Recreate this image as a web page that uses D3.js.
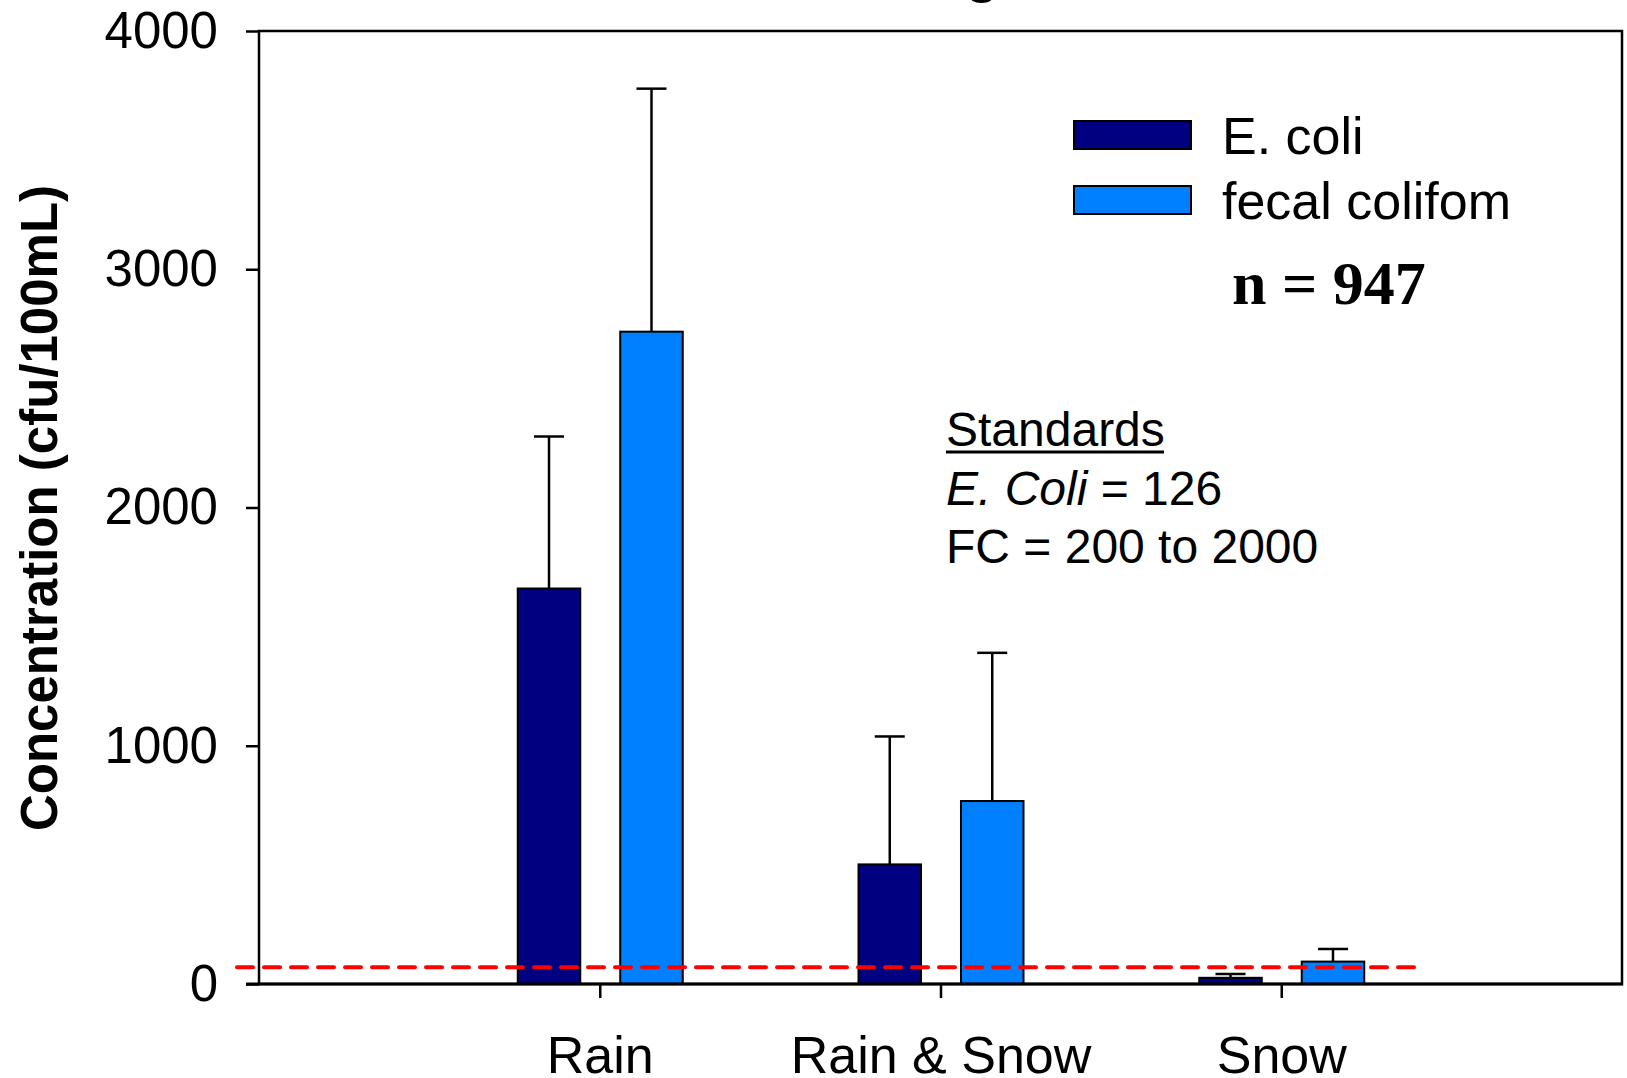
<!DOCTYPE html>
<html>
<head>
<meta charset="utf-8">
<script src="https://cdn.jsdelivr.net/npm/d3@7"></script>
<style>
  html, body { margin: 0; padding: 0; background: #fff; }
  svg { display: block; }
  text { font-family: Arial, "Liberation Sans", sans-serif; }
  text.serif { font-family: "Liberation Serif", "Times New Roman", serif; }
</style>
</head>
<body>
<svg id="chart" width="1627" height="1078"></svg>
<script>
// ---- data ----
const categories = ["Rain", "Rain & Snow", "Snow"];
const seriesNames = ["E. coli", "fecal colifom"];
const seriesColors = ["#000080", "#0080FF"];
const ecoliMean = [1660, 502, 26];
const ecoliErr = [638, 537, 16];
const fecalMean = [2738, 768, 94];
const fecalErr = [1020, 622, 53];
const yTicks = [0, 1000, 2000, 3000, 4000];
const standardLine = 70;
const standardsText = ["Standards", "E. Coli", " = 126", "FC = 200 to 2000"];
const nText = "n = 947";

// ---- layout ----
const W = 1627, H = 1078;
const m = { left: 259, right: 5, top: 31, bottom: 94 };
const x0L = m.left, x1R = W - m.right, yT = m.top, yB = H - m.bottom;

const svg = d3.select("#chart");

const x = d3.scalePoint().domain(categories).range([x0L, x1R]).padding(1);
const xs = d3.scaleBand().domain(seriesNames).range([-82, 83]).paddingInner(0.39).paddingOuter(0);
const y = d3.scaleLinear().domain([0, 4000]).range([yB, yT]);

// title fragment (cut off at top)
svg.append("text")
  .attr("x", 982).attr("y", -9)
  .attr("text-anchor", "middle")
  .attr("font-size", 56).attr("font-weight", "bold")
  .text("g");

const rows = [];
categories.forEach((c, i) => {
  rows.push({ cat: c, s: seriesNames[0], v: ecoliMean[i], e: ecoliErr[i], col: seriesColors[0] });
  rows.push({ cat: c, s: seriesNames[1], v: fecalMean[i], e: fecalErr[i], col: seriesColors[1] });
});

// error bars
const capHalf = 15;
const eb = svg.append("g").attr("stroke", "#000").attr("stroke-width", 2.5);
rows.forEach(d => {
  const cx = x(d.cat) + xs(d.s) + xs.bandwidth() / 2;
  eb.append("line").attr("x1", cx).attr("x2", cx).attr("y1", y(d.v)).attr("y2", y(d.v + d.e));
  eb.append("line").attr("x1", cx - capHalf).attr("x2", cx + capHalf).attr("y1", y(d.v + d.e)).attr("y2", y(d.v + d.e));
});

// bars
svg.append("g").selectAll("rect").data(rows).join("rect")
  .attr("x", d => x(d.cat) + xs(d.s))
  .attr("width", xs.bandwidth())
  .attr("y", d => y(d.v))
  .attr("height", d => y(0) - y(d.v))
  .attr("fill", d => d.col)
  .attr("stroke", "#000")
  .attr("stroke-width", 2);

// standard line (red dashed)
svg.append("line")
  .attr("x1", x0L - 22)
  .attr("x2", x(categories[2]) + x.step() * 0.41)
  .attr("y1", y(standardLine)).attr("y2", y(standardLine))
  .attr("stroke", "#FF0000").attr("stroke-width", 4)
  .attr("stroke-linecap", "round")
  .attr("stroke-dasharray", "16,11");

// frame
svg.append("rect")
  .attr("x", x0L).attr("y", yT).attr("width", x1R - x0L).attr("height", yB - yT)
  .attr("fill", "none").attr("stroke", "#000").attr("stroke-width", 2.5);
svg.append("line").attr("x1", x0L - 13).attr("x2", x1R + 1).attr("y1", yB).attr("y2", yB)
  .attr("stroke", "#000").attr("stroke-width", 3);

// y axis
const yAxis = svg.append("g").attr("transform", `translate(${x0L},0)`)
  .call(d3.axisLeft(y).tickValues(yTicks).tickFormat(d3.format("d")).tickSize(13).tickSizeOuter(0).tickPadding(28));
yAxis.select(".domain").remove();
yAxis.selectAll("line").attr("stroke", "#000").attr("stroke-width", 2.5);
yAxis.selectAll("text").attr("font-size", 51).attr("fill", "#000");

// x axis
const xAxis = svg.append("g").attr("transform", `translate(0,${yB})`)
  .call(d3.axisBottom(x).tickSize(14).tickSizeOuter(0).tickPadding(38));
xAxis.select(".domain").remove();
xAxis.selectAll("line").attr("stroke", "#000").attr("stroke-width", 2.5);
xAxis.selectAll("text").attr("font-size", 52).attr("fill", "#000");

// y label
svg.append("text")
  .attr("transform", `translate(57,508) rotate(-90)`)
  .attr("text-anchor", "middle")
  .attr("font-size", 51).attr("font-weight", "bold")
  .text("Concentration (cfu/100mL)");

// legend
const lg = svg.append("g");
seriesNames.forEach((s, i) => {
  const yy = 121 + i * 65;
  lg.append("rect").attr("x", 1074).attr("y", yy).attr("width", 117).attr("height", 28)
    .attr("fill", seriesColors[i]).attr("stroke", "#000").attr("stroke-width", 2);
  lg.append("text").attr("x", 1222).attr("y", yy + 33).attr("font-size", 52).text(s);
});

// n = 947
svg.append("text")
  .attr("class", "serif")
  .attr("x", 1232).attr("y", 304)
  .attr("font-weight", "bold").attr("font-size", 62)
  .text(nText);

// standards block
const st = svg.append("g").attr("font-size", 48);
st.append("text").attr("x", 946).attr("y", 446).text(standardsText[0]);
st.append("line").attr("x1", 946).attr("x2", 1164).attr("y1", 452).attr("y2", 452)
  .attr("stroke", "#000").attr("stroke-width", 3);
const t2 = st.append("text").attr("x", 946).attr("y", 505);
t2.append("tspan").attr("font-style", "italic").text(standardsText[1]);
t2.append("tspan").text(standardsText[2]);
st.append("text").attr("x", 946).attr("y", 563).text(standardsText[3]);
</script>
</body>
</html>
